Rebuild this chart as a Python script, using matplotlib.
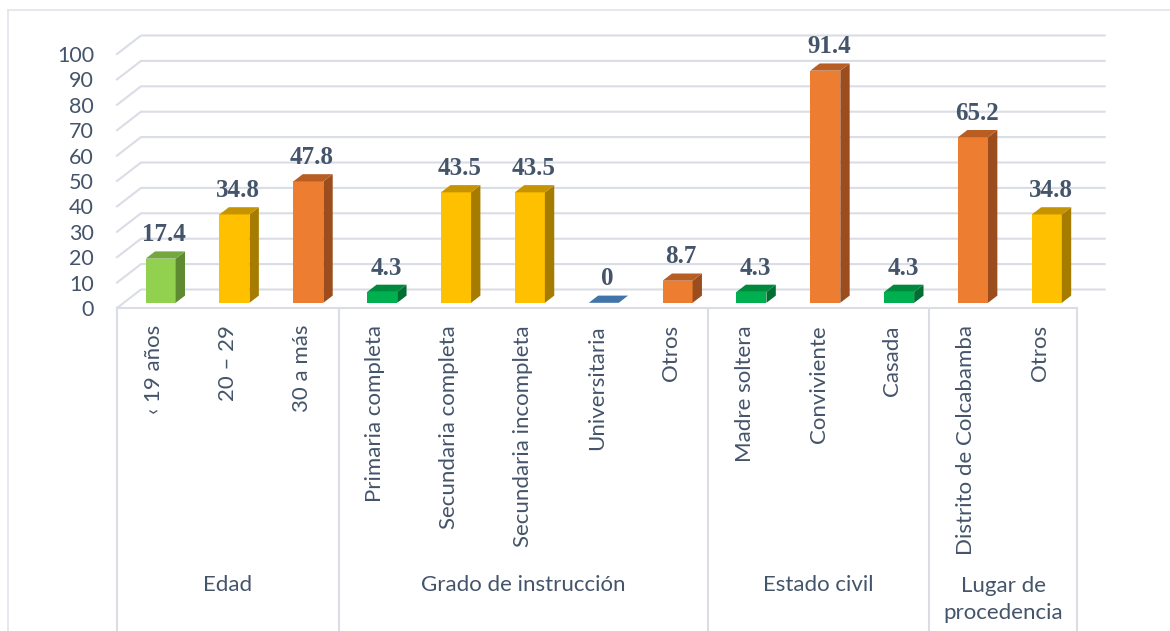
import matplotlib.pyplot as plt
from matplotlib.patches import Polygon

# datos
categorias = ['‹ 19 años', '20 – 29', '30 a más',
              'Primaria completa', 'Secundaria completa', 'Secundaria incompleta',
              'Universitaria', 'Otros',
              'Madre soltera', 'Conviviente', 'Casada',
              'Distrito de Colcabamba', 'Otros']
valores = [17.4, 34.8, 47.8, 4.3, 43.5, 43.5, 0, 8.7, 4.3, 91.4, 4.3, 65.2, 34.8]
grupos = ['Edad', 'Grado de instrucción', 'Estado civil', 'Lugar de\nprocedencia']
tam_grupos = [3, 5, 3, 2]
yticks = list(range(0, 101, 10))

# estilos (cara, tapa, lado)
paleta = {
    'verde_cl': ('#92D050', '#72A83E', '#5E8A32'),
    'amarillo': ('#FFC000', '#C59400', '#A67C00'),
    'naranja': ('#ED7D31', '#B85E22', '#9B4D1E'),
    'verde': ('#00B050', '#008A3E', '#006E31'),
    'azul': ('#4A7AAE', '#4174A8', '#3A6696'),
}
colores = ['verde_cl', 'amarillo', 'naranja', 'verde', 'amarillo', 'amarillo', 'azul',
           'naranja', 'verde', 'naranja', 'verde', 'naranja', 'amarillo']

txt = '#44546A'
grid = '#DADDE5'
fuente = 'Lato'

W, H = 1170, 631
fig = plt.figure(figsize=(W / 100, H / 100), dpi=100)
ax = fig.add_axes([0, 0, 1, 1])
ax.axis('off')

# escala en pixeles -> datos
x0px, slot = 117, 73.85
y0px, upx = 308, 2.54
ax.set_xlim(-x0px / slot, (W - x0px) / slot)
ax.set_ylim((y0px - H) / upx, y0px / upx)

n = len(valores)
Dx, Dy = 24 / slot, 18.5 / upx   # profundidad del piso
f0, fd = 0.28, 0.39               # posición y profundidad de las barras
w = 30 / slot

# marco del grafico
ax.plot([-(x0px - 8) / slot] * 2, [(y0px - H) / upx, (y0px - 10) / upx], color='#E1E4EA', lw=1.2)
ax.plot([-(x0px - 8) / slot, (W - x0px) / slot], [(y0px - 10) / upx] * 2, color='#E1E4EA', lw=1.2)

# rejilla y pared
for t in yticks:
    ax.plot([0, Dx, n + Dx * 1.15], [t, t + Dy, t + Dy], color=grid, lw=1.5, zorder=1)
    ax.text(-(x0px - 94) / slot, t - 0.8, str(t), ha='right', va='center',
            fontsize=15.5, color=txt, family=fuente)
ax.plot([0, n], [0, 0], color=grid, lw=1.5, zorder=1)

# barras 3D
for i, (v, c) in enumerate(zip(valores, colores)):
    cara, tapa, lado = paleta[c]
    xa = i + 0.5 - w / 2 + f0 * Dx
    xb = xa + w
    yb = f0 * Dy
    ddx, ddy = fd * Dx, fd * Dy
    if v > 0:
        ax.add_patch(Polygon([(xa, yb), (xb, yb), (xb, yb + v), (xa, yb + v)],
                             closed=True, fc=cara, ec='none', zorder=3))
        ax.add_patch(Polygon([(xb, yb), (xb + ddx, yb + ddy), (xb + ddx, yb + ddy + v), (xb, yb + v)],
                             closed=True, fc=lado, ec='none', zorder=3))
    ax.add_patch(Polygon([(xa, yb + v), (xb, yb + v), (xb + ddx, yb + v + ddy), (xa + ddx, yb + v + ddy)],
                         closed=True, fc=tapa, ec='none', zorder=3))
    etiqueta = '0' if v == 0 else f'{v:.1f}'
    ax.text((xa + xb) / 2 + 0.05, yb + v + ddy + 4.0, etiqueta, ha='center', va='baseline',
            fontsize=18, fontweight='bold', color=txt, family='Liberation Serif', zorder=4)

# etiquetas de categorias
for i, cat in enumerate(categorias):
    ax.text(i + 0.5, -(325 - y0px) / upx, cat, rotation=90, ha='center', va='top',
            fontsize=16, color=txt, family=fuente)

# separadores y grupos
bordes = [0]
for t_ in tam_grupos:
    bordes.append(bordes[-1] + t_)
for b in bordes:
    ax.plot([b, b], [0, (y0px - H) / upx], color=grid, lw=1.5, zorder=1)
for g, a, b in zip(grupos, bordes[:-1], bordes[1:]):
    yy = 585 if '\n' not in g else 599.5
    ax.text((a + b) / 2, -(yy - y0px) / upx, g, ha='center', va='center',
            fontsize=16, color=txt, family=fuente, linespacing=1.4)

plt.savefig('out.png', dpi=100)
